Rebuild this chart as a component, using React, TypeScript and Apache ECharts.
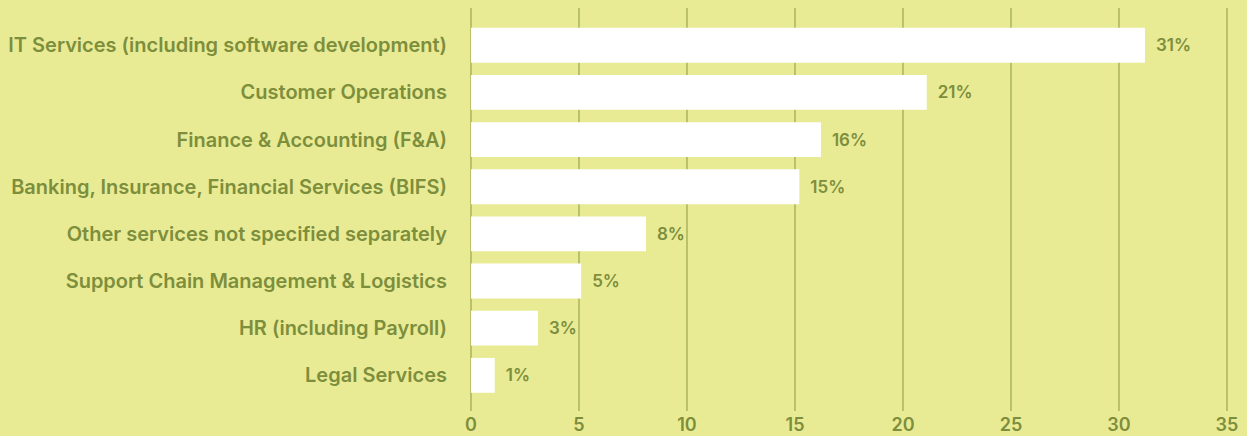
import React, { useEffect, useRef } from "react";
import * as echarts from "echarts";

const categories = [
  "IT Services (including software development)",
  "Customer Operations",
  "Finance & Accounting (F&A)",
  "Banking, Insurance, Financial Services (BIFS)",
  "Other services not specified separately",
  "Support Chain Management & Logistics",
  "HR (including Payroll)",
  "Legal Services",
];
const values = [31.2, 21.1, 16.2, 15.2, 8.1, 5.1, 3.1, 1.1];
const xTicks = [0, 5, 10, 15, 20, 25, 30, 35];

const BG = "#e8eb94";
const TEXT = "#7d8e3c";
const LINE = "#aab35e";
const FONT = "Inter, 'Open Sans', sans-serif";

export default function App() {
  const ref = useRef<HTMLDivElement>(null);
  useEffect(() => {
    document.body.style.margin = "0";
    const chart = echarts.init(ref.current!, null, { renderer: "svg" });
    chart.setOption({
      animation: false,
      backgroundColor: BG,
      grid: [
        { left: 471, right: 20, top: 8, bottom: 25 },
        { left: 471, right: 20, top: 21.7, height: 377.2 },
      ],
      xAxis: [
        {
          gridIndex: 0,
          type: "value",
          min: xTicks[0],
          max: xTicks[xTicks.length - 1],
          interval: 5,
          axisLine: { show: false },
          axisTick: { show: false },
          splitLine: { show: true, lineStyle: { color: LINE, width: 1.5 } },
          axisLabel: {
            color: TEXT,
            fontSize: 18,
            fontWeight: 600,
            fontFamily: FONT,
            margin: 4,
          },
        },
        {
          gridIndex: 1,
          type: "value",
          min: xTicks[0],
          max: xTicks[xTicks.length - 1],
          show: false,
        },
      ],
      yAxis: [
        { gridIndex: 0, type: "value", show: false },
        {
          gridIndex: 1,
          type: "category",
          inverse: true,
          data: categories,
          axisLine: { show: false },
          axisTick: { show: false },
          axisLabel: {
            color: TEXT,
            fontSize: 20,
            fontWeight: 600,
            fontFamily: FONT,
            margin: 24,
            padding: [4, 0, 0, 0],
          },
        },
      ],
      series: [
        {
          type: "bar",
          xAxisIndex: 1,
          yAxisIndex: 1,
          data: values,
          barCategoryGap: "26%",
          itemStyle: { color: "#ffffff" },
          label: {
            show: true,
            position: "right",
            distance: 11,
            color: TEXT,
            fontSize: 17,
            fontWeight: 600,
            fontFamily: FONT,
            formatter: (p: any) => Math.round(p.value) + "%",
          },
        },
      ],
    });
    return () => chart.dispose();
  }, []);
  return <div ref={ref} style={{ width: 1247, height: 436 }} />;
}
